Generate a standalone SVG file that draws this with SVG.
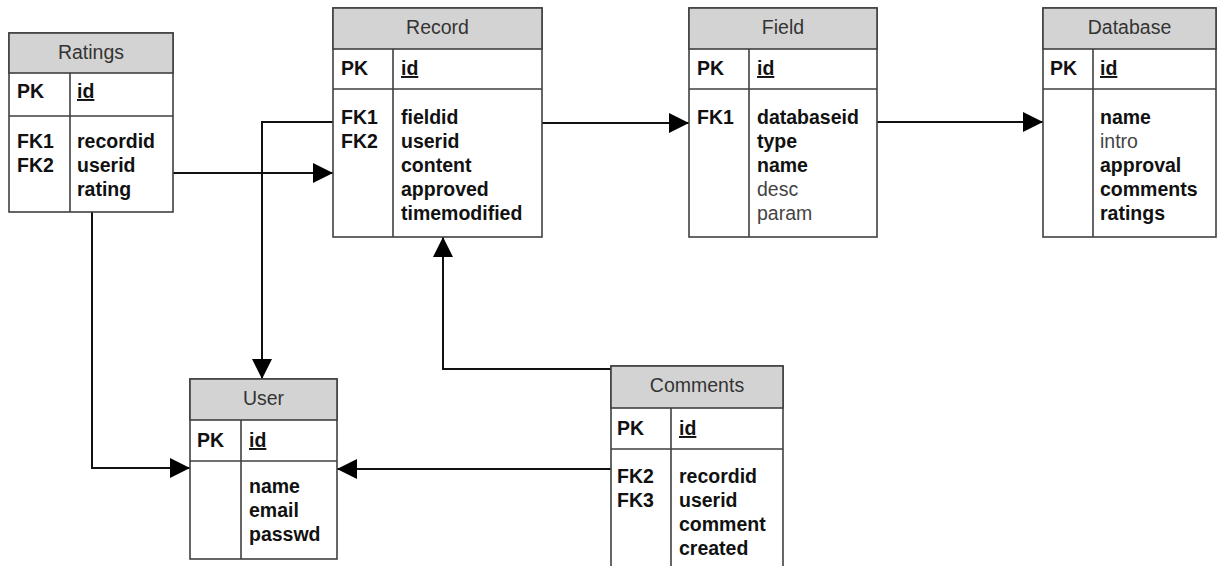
<svg xmlns="http://www.w3.org/2000/svg" width="1219" height="566" viewBox="0 0 1219 566">
  <style>
    .box { fill: #ffffff; stroke: #404040; stroke-width: 1.6; }
    .head { fill: #d3d3d3; stroke: #404040; stroke-width: 1.6; }
    .sep { stroke: #404040; stroke-width: 1.6; fill: none; }
    .title { font-family: "Liberation Sans", Arial, sans-serif; font-size: 19.5px; fill: #333333; text-anchor: middle; }
    .key { font-family: "Liberation Sans", Arial, sans-serif; font-size: 19.5px; font-weight: bold; fill: #111111; }
    .fld { font-family: "Liberation Sans", Arial, sans-serif; font-size: 19.5px; font-weight: bold; fill: #111111; }
    .opt { font-family: "Liberation Sans", Arial, sans-serif; font-size: 19.5px; fill: #444444; }
    .pk { text-decoration: underline; }
    .wire { fill: none; stroke: #111111; stroke-width: 2; }
  </style>
  <defs>
    <marker id="arrow" markerUnits="userSpaceOnUse" markerWidth="20" markerHeight="20" refX="20" refY="10" orient="auto">
      <path d="M0,0 L20,10 L0,20 z" fill="#000000"/>
    </marker>
  </defs>
  <rect width="1219" height="566" fill="#ffffff"/>

  <!-- relationships -->
  <g id="connectors">
    <path class="wire" d="M173,173 H333" marker-end="url(#arrow)"/>
    <path class="wire" d="M333,122 H262 V379" marker-end="url(#arrow)"/>
    <path class="wire" d="M92,212 V468 H190" marker-end="url(#arrow)"/>
    <path class="wire" d="M542,123 H689" marker-end="url(#arrow)"/>
    <path class="wire" d="M877,122 H1043" marker-end="url(#arrow)"/>
    <path class="wire" d="M611,369 H443 V237" marker-end="url(#arrow)"/>
    <path class="wire" d="M611,469 H337" marker-end="url(#arrow)"/>
  </g>

  <!-- Ratings table -->
  <g id="ratings">
    <rect class="box" x="9" y="33" width="164" height="179"/>
    <rect class="head" x="9" y="33" width="164" height="40"/>
    <path class="sep" d="M9,116 H173 M70,73 V212"/>
    <text class="title" x="91" y="59">Ratings</text>
    <text class="key" x="17" y="98">PK</text>
    <text class="fld pk" x="77" y="98">id</text>
    <text class="key" x="17" y="148">FK1</text>
    <text class="key" x="17" y="172">FK2</text>
    <text class="fld" x="77" y="148">recordid</text>
    <text class="fld" x="77" y="172">userid</text>
    <text class="fld" x="77" y="196">rating</text>
  </g>

  <!-- Record table -->
  <g id="record">
    <rect class="box" x="333" y="8" width="209" height="229"/>
    <rect class="head" x="333" y="8" width="209" height="41"/>
    <path class="sep" d="M333,89 H542 M393,49 V237"/>
    <text class="title" x="437.5" y="34">Record</text>
    <text class="key" x="341" y="75">PK</text>
    <text class="fld pk" x="401" y="75">id</text>
    <text class="key" x="341" y="124">FK1</text>
    <text class="key" x="341" y="148">FK2</text>
    <text class="fld" x="401" y="124">fieldid</text>
    <text class="fld" x="401" y="148">userid</text>
    <text class="fld" x="401" y="172">content</text>
    <text class="fld" x="401" y="196">approved</text>
    <text class="fld" x="401" y="220">timemodified</text>
  </g>

  <!-- Field table -->
  <g id="field">
    <rect class="box" x="689" y="8" width="188" height="229"/>
    <rect class="head" x="689" y="8" width="188" height="41"/>
    <path class="sep" d="M689,89 H877 M749,49 V237"/>
    <text class="title" x="783" y="34">Field</text>
    <text class="key" x="697" y="75">PK</text>
    <text class="fld pk" x="757" y="75">id</text>
    <text class="key" x="697" y="124">FK1</text>
    <text class="fld" x="757" y="124">databaseid</text>
    <text class="fld" x="757" y="148">type</text>
    <text class="fld" x="757" y="172">name</text>
    <text class="opt" x="757" y="196">desc</text>
    <text class="opt" x="757" y="220">param</text>
  </g>

  <!-- Database table -->
  <g id="database">
    <rect class="box" x="1043" y="8" width="173" height="229"/>
    <rect class="head" x="1043" y="8" width="173" height="41"/>
    <path class="sep" d="M1043,89 H1216 M1093,49 V237"/>
    <text class="title" x="1129.5" y="34">Database</text>
    <text class="key" x="1050" y="75">PK</text>
    <text class="fld pk" x="1100" y="75">id</text>
    <text class="fld" x="1100" y="124">name</text>
    <text class="opt" x="1100" y="148">intro</text>
    <text class="fld" x="1100" y="172">approval</text>
    <text class="fld" x="1100" y="196">comments</text>
    <text class="fld" x="1100" y="220">ratings</text>
  </g>

  <!-- User table -->
  <g id="user">
    <rect class="box" x="190" y="379" width="147" height="180"/>
    <rect class="head" x="190" y="379" width="147" height="41"/>
    <path class="sep" d="M190,461 H337 M241,420 V559"/>
    <text class="title" x="263.5" y="405">User</text>
    <text class="key" x="197" y="447">PK</text>
    <text class="fld pk" x="249" y="447">id</text>
    <text class="fld" x="249" y="493">name</text>
    <text class="fld" x="249" y="517">email</text>
    <text class="fld" x="249" y="541">passwd</text>
  </g>

  <!-- Comments table -->
  <g id="comments">
    <rect class="box" x="611" y="366" width="172" height="220"/>
    <rect class="head" x="611" y="366" width="172" height="42"/>
    <path class="sep" d="M611,449 H783 M671,408 V586"/>
    <text class="title" x="697" y="392">Comments</text>
    <text class="key" x="617" y="435">PK</text>
    <text class="fld pk" x="679" y="435">id</text>
    <text class="key" x="617" y="483">FK2</text>
    <text class="key" x="617" y="507">FK3</text>
    <text class="fld" x="679" y="483">recordid</text>
    <text class="fld" x="679" y="507">userid</text>
    <text class="fld" x="679" y="531">comment</text>
    <text class="fld" x="679" y="555">created</text>
  </g>
</svg>
